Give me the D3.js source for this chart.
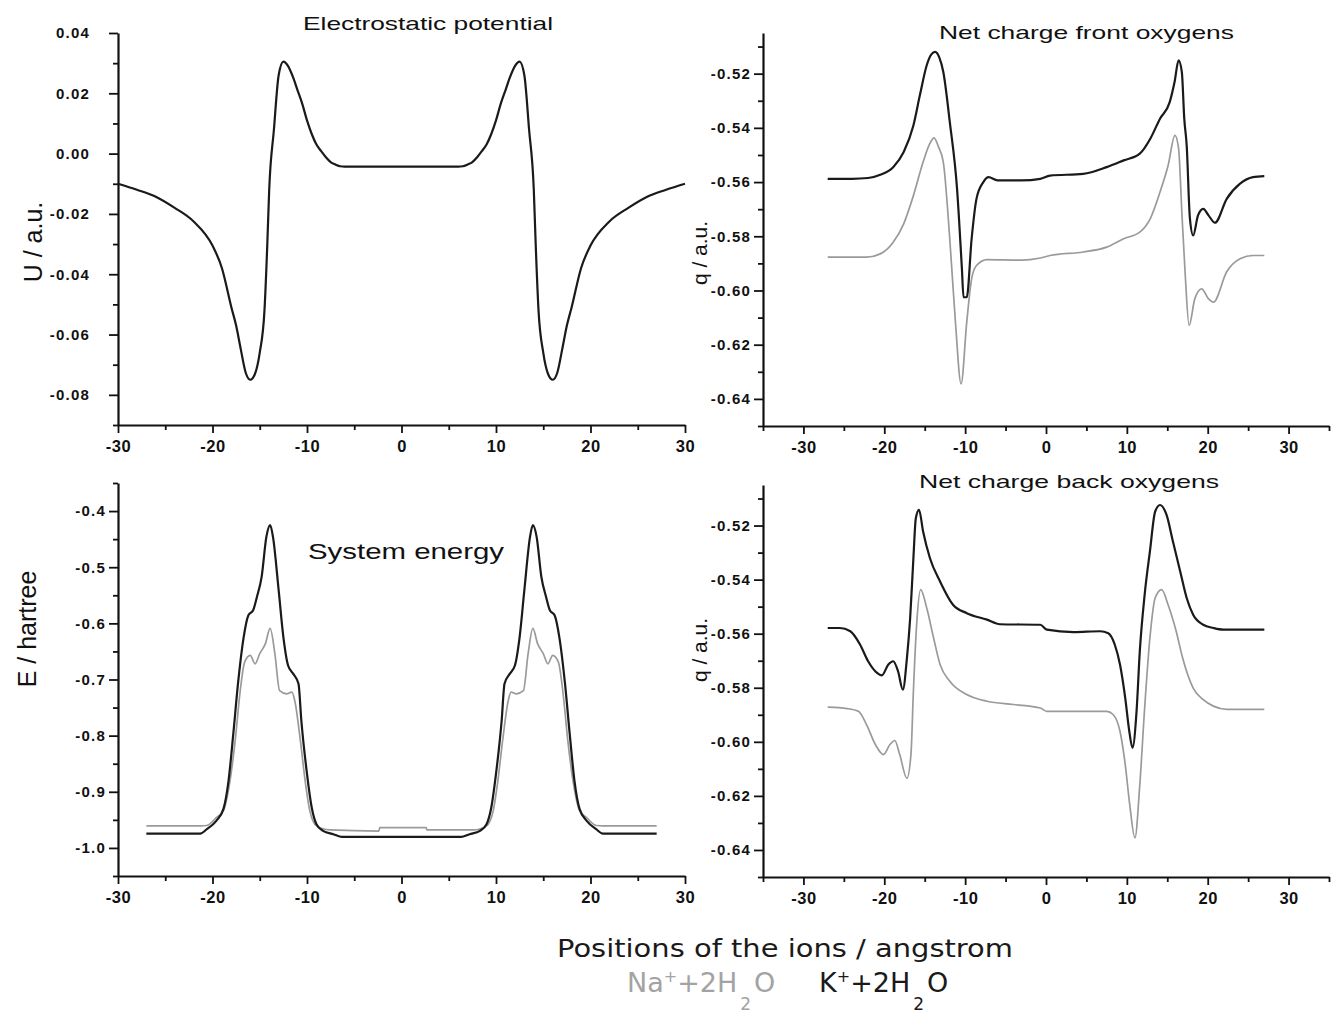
<!DOCTYPE html>
<html><head><meta charset="utf-8">
<script src="https://cdn.jsdelivr.net/npm/d3@7"></script>
<style>body{margin:0;background:#fff}svg{display:block;background:#fff}</style>
</head><body>
<svg id="c" width="1331" height="1013"></svg>
<script>
// ---------------- DATA ----------------
// Electrostatic potential (U / a.u.)
const potX = [-30,-28,-26,-24,-22,-20,-19,-18,-17.5,-17,-16.5,-16,-15.5,-15,-14.5,-14.2,-14,-13.5,-13,-12.5,-12,-11.5,-11,-10.5,-10,-9.5,-9,-8.5,-8,-7.5,-7,-6.5,-6,
              6,6.5,7,7.5,8,8.5,9,9.5,10,10.5,11,11.5,12,12.5,13,13.5,14,14.2,14.5,15,15.5,16,16.5,17,17.5,18,19,20,22,24,26,28,30];
const potU = [-0.0100,-0.0120,-0.0143,-0.0180,-0.0225,-0.0305,-0.0380,-0.0510,-0.0570,-0.0650,-0.0725,-0.0750,-0.0730,-0.0660,-0.0520,-0.0300,-0.0120,0.0080,0.0260,0.0305,0.0290,0.0255,0.0210,0.0165,0.0110,0.0065,0.0030,0.0008,-0.0012,-0.0028,-0.0036,-0.0042,-0.0043,
              -0.0043,-0.0042,-0.0036,-0.0028,-0.0012,0.0008,0.0030,0.0065,0.0110,0.0165,0.0210,0.0255,0.0290,0.0305,0.0260,0.0080,-0.0120,-0.0300,-0.0520,-0.0660,-0.0730,-0.0750,-0.0725,-0.0650,-0.0570,-0.0510,-0.0380,-0.0305,-0.0225,-0.0180,-0.0143,-0.0120,-0.0100];

// Net charge front oxygens (q / a.u.)
const frontXK = [-27,-24,-22,-20.5,-18.9,-17.6,-16.4,-15.6,-14.75,-14.2,-13.7,-13.2,-12.7,-11.9,-11.0,-10.4,-10.2,-9.8,-9.2,-8.6,-7.75,-7.1,-6,-3,-0.7,0.5,4.6,7.5,9.6,11.6,12.9,14.1,15.3,15.9,16.4,16.8,17.1,17.4,17.8,18.2,18.8,19.45,20.1,20.9,22.35,24.0,25.6,27];
const frontK  = [-0.5588,-0.5588,-0.5585,-0.5573,-0.5545,-0.5489,-0.5391,-0.5280,-0.5169,-0.5130,-0.5120,-0.5140,-0.5194,-0.5378,-0.5625,-0.5920,-0.6025,-0.6025,-0.5810,-0.5662,-0.5600,-0.5582,-0.5594,-0.5594,-0.5588,-0.5576,-0.5570,-0.5545,-0.5520,-0.5495,-0.5440,-0.5366,-0.5305,-0.5231,-0.5151,-0.5194,-0.5366,-0.5465,-0.5735,-0.5797,-0.5723,-0.5699,-0.5723,-0.5750,-0.5662,-0.5606,-0.5582,-0.5578];
const frontXNa = [-27,-22.2,-20.5,-18.9,-17.6,-16.4,-15.2,-14.4,-13.85,-13.3,-12.7,-11.9,-11.2,-10.5,-9.8,-9.2,-8.6,-7.3,-3,-0.7,0.5,4.6,7.5,9.6,11.6,12.9,14.1,15.1,15.95,16.4,16.8,17.2,17.7,18.4,19.25,20.1,20.7,22.35,24.0,25.6,27];
const frontNa  = [-0.5877,-0.5877,-0.5865,-0.5822,-0.5754,-0.5650,-0.5526,-0.5460,-0.5437,-0.5470,-0.5526,-0.5810,-0.6117,-0.6345,-0.6116,-0.5957,-0.5908,-0.5886,-0.5888,-0.5880,-0.5871,-0.5858,-0.5840,-0.5809,-0.5785,-0.5735,-0.5637,-0.5539,-0.5428,-0.5477,-0.5711,-0.5932,-0.6129,-0.6031,-0.5994,-0.6031,-0.6043,-0.5931,-0.5883,-0.5871,-0.5871];

// System energy (E / hartree)
const energyXK = [-27,-21.3,-20.6,-19.6,-18.85,-18.3,-17.8,-17.3,-16.7,-16.2,-15.7,-15.3,-14.8,-14.3,-13.9,-13.6,-13.0,-12.5,-12.0,-11.45,-10.9,-10.6,-10.0,-9.5,-9.0,-8.3,-7.2,-6.3,
                  6.3,7.2,8.3,9.0,9.5,10.0,10.6,10.9,11.45,12.0,12.5,13.0,13.6,13.9,14.3,14.8,15.3,15.7,16.2,16.7,17.3,17.8,18.3,18.85,19.6,20.6,21.3,27];
const energyK  = [-0.9744,-0.9744,-0.9667,-0.9518,-0.9310,-0.8800,-0.7970,-0.7070,-0.6244,-0.5857,-0.5768,-0.5530,-0.5173,-0.4460,-0.4250,-0.4460,-0.5410,-0.6244,-0.6750,-0.6900,-0.7077,-0.7730,-0.8680,-0.9280,-0.9577,-0.9696,-0.9756,-0.9804,
                  -0.9804,-0.9756,-0.9696,-0.9577,-0.9280,-0.8680,-0.7730,-0.7077,-0.6900,-0.6750,-0.6244,-0.5410,-0.4460,-0.4250,-0.4460,-0.5173,-0.5530,-0.5768,-0.5857,-0.6244,-0.7070,-0.7970,-0.8800,-0.9310,-0.9518,-0.9667,-0.9744,-0.9744];
const energyXNa = [-27,-21.3,-20.6,-19.6,-18.85,-18.2,-17.6,-17.1,-16.6,-16.0,-15.5,-15.0,-14.4,-13.9,-13.4,-12.9,-12.15,-11.6,-11.3,-10.7,-10.2,-9.7,-9.0,-7.6,-2.4,-2.3,2.6,2.7,
                   7.6,9.0,9.7,10.2,10.7,11.3,11.6,12.15,12.9,13.4,13.9,14.4,15.0,15.5,16.0,16.6,17.1,17.6,18.2,18.85,19.6,20.6,21.3,27];
const energyNa  = [-0.9607,-0.9607,-0.9600,-0.9460,-0.9340,-0.8860,-0.8090,-0.7250,-0.6690,-0.6570,-0.6720,-0.6540,-0.6360,-0.6090,-0.6540,-0.7200,-0.7256,-0.7226,-0.7375,-0.8090,-0.8800,-0.9340,-0.9607,-0.9680,-0.9700,-0.9637,-0.9637,-0.9680,
                   -0.9680,-0.9607,-0.9340,-0.8800,-0.8090,-0.7375,-0.7226,-0.7256,-0.7200,-0.6540,-0.6090,-0.6360,-0.6540,-0.6720,-0.6570,-0.6690,-0.7250,-0.8090,-0.8860,-0.9340,-0.9460,-0.9600,-0.9607,-0.9607];

// Net charge back oxygens (q / a.u.)
const backXK = [-27,-25.5,-24.2,-23.0,-22.0,-20.9,-20.3,-19.5,-18.9,-18.3,-17.7,-17.2,-16.8,-16.4,-16.1,-15.7,-15.2,-14.35,-13.1,-11.5,-9.8,-7.3,-5.7,-0.7,0.1,3.4,6.7,7.7,8.5,9.15,9.8,10.3,10.7,11.2,11.6,12.2,12.85,13.5,14.1,14.9,15.7,16.6,17.4,18.2,19.45,20.7,21.9,27];
const backK  = [-0.5579,-0.5579,-0.5591,-0.5640,-0.5702,-0.5745,-0.5754,-0.5714,-0.5702,-0.5739,-0.5807,-0.5690,-0.5542,-0.5321,-0.5173,-0.5142,-0.5222,-0.5321,-0.5407,-0.5493,-0.5524,-0.5548,-0.5565,-0.5567,-0.5585,-0.5594,-0.5591,-0.5598,-0.5640,-0.5714,-0.5838,-0.5961,-0.6022,-0.5887,-0.5665,-0.5456,-0.5296,-0.5148,-0.5124,-0.5160,-0.5259,-0.5370,-0.5468,-0.5530,-0.5567,-0.5579,-0.5585,-0.5585];
const backXNa = [-27,-24.6,-23.2,-22.2,-21.1,-20.1,-19.3,-18.7,-18.1,-17.2,-16.7,-16.4,-16.0,-15.5,-14.75,-13.9,-13.1,-11.9,-9.8,-7.3,-4.0,-0.7,0.1,7.5,8.3,9.15,9.8,10.35,11.0,11.6,12.2,12.85,13.5,14.3,15.1,16.1,16.9,18.2,19.45,20.7,22.35,27];
const backNa  = [-0.5872,-0.5877,-0.5887,-0.5936,-0.6010,-0.6047,-0.6010,-0.5995,-0.6046,-0.6135,-0.6046,-0.5813,-0.5567,-0.5437,-0.5505,-0.5616,-0.5714,-0.5776,-0.5825,-0.5850,-0.5862,-0.5875,-0.5887,-0.5887,-0.5899,-0.5961,-0.6084,-0.6231,-0.6355,-0.6159,-0.5875,-0.5616,-0.5468,-0.5437,-0.5493,-0.5591,-0.5690,-0.5801,-0.5844,-0.5868,-0.5880,-0.5880];

// Ticks
const xTicksLeft = [-30,-20,-10,0,10,20,30];
const xMinorLeft = [-25,-15,-5,5,15,25];
const xTicksRight = [-30,-20,-10,0,10,20,30];
const xMinorRight = [-35,-25,-15,-5,5,15,25,35];
const yTicksPot = [-0.08,-0.06,-0.04,-0.02,0.00,0.02,0.04];
const yMinorPot = [-0.09,-0.07,-0.05,-0.03,-0.01,0.01,0.03];
const yTicksQ = [-0.64,-0.62,-0.60,-0.58,-0.56,-0.54,-0.52];
const yMinorQ = [-0.65,-0.63,-0.61,-0.59,-0.57,-0.55,-0.53,-0.51];
const yTicksE = [-1.0,-0.9,-0.8,-0.7,-0.6,-0.5,-0.4];
const yMinorE = [-1.05,-0.95,-0.85,-0.75,-0.65,-0.55,-0.45,-0.35];

const titles = ["Electrostatic potential","Net charge front oxygens","System energy","Net charge back oxygens"];
const yLabels = ["U / a.u.","q / a.u.","E / hartree","q / a.u."];
const xLabel = "Positions of the ions / angstrom";
const legendNames = [["Na","+","+2H","2","O"],["K","+","+2H","2","O"]];

// ---------------- DRAW ----------------
const svg = d3.select("#c");
const BLACK = "#1a1a1a", GRAY = "#9a9a9a";
const FONT = "'Liberation Sans', Arial, sans-serif";

function panel(cfg) {
  const x = d3.scaleLinear().domain(cfg.xd).range(cfg.xr);
  const y = d3.scaleLinear().domain(cfg.yd).range(cfg.yr);
  const g = svg.append("g");

  // minor ticks
  g.append("g").attr("transform", `translate(0,${cfg.yr[0]})`)
    .call(d3.axisBottom(x).tickValues(cfg.xMinor).tickSize(5).tickFormat(""))
    .call(a => a.select(".domain").remove())
    .selectAll("line").attr("stroke", "#111").attr("stroke-width", 1.8);
  g.append("g").attr("transform", `translate(${cfg.xr[0]},0)`)
    .call(d3.axisLeft(y).tickValues(cfg.yMinor).tickSize(5).tickFormat(""))
    .call(a => a.select(".domain").remove())
    .selectAll("line").attr("stroke", "#111").attr("stroke-width", 1.8);

  // major x
  const xa = g.append("g").attr("transform", `translate(0,${cfg.yr[0]})`)
    .call(d3.axisBottom(x).tickValues(cfg.xTicks).tickSize(8).tickSizeOuter(0).tickPadding(cfg.xPad)
      .tickFormat(d => String(d)));
  xa.select(".domain").attr("stroke", "#111").attr("stroke-width", 2.2);
  xa.selectAll("line").attr("stroke", "#111").attr("stroke-width", 1.8);
  xa.selectAll("text").attr("font-family", FONT).attr("font-size", 16.5).attr("font-weight", "bold")
    .attr("fill", "#111").attr("letter-spacing", "0.5px");

  // major y
  const ya = g.append("g").attr("transform", `translate(${cfg.xr[0]},0)`)
    .call(d3.axisLeft(y).tickValues(cfg.yTicks).tickSize(9).tickSizeOuter(0).tickPadding(cfg.yPad)
      .tickFormat(d => d.toFixed(cfg.dec)));
  ya.select(".domain").attr("stroke", "#111").attr("stroke-width", 2.2);
  ya.selectAll("line").attr("stroke", "#111").attr("stroke-width", 1.8);
  ya.selectAll("text").attr("font-family", FONT).attr("font-size", 15).attr("font-weight", "bold")
    .attr("fill", "#111").attr("letter-spacing", "1.2px");

  // series
  cfg.series.forEach(s => {
    const line = d3.line().x((d, i) => x(s.x[i])).y(d => y(d)).curve(d3.curveMonotoneX);
    g.append("path").attr("d", line(s.y)).attr("fill", "none")
      .attr("stroke", s.color).attr("stroke-width", s.w).attr("stroke-linejoin", "round");
  });

  // title
  g.append("text").attr("x", cfg.title.x).attr("y", cfg.title.y)
    .attr("font-family", FONT).attr("font-size", cfg.title.fs).attr("fill", "#111")
    .attr("textLength", cfg.title.w).attr("lengthAdjust", "spacingAndGlyphs")
    .text(cfg.title.t);

  // y label
  g.append("text").attr("transform", `translate(${cfg.ylab.x},${cfg.ylab.y}) rotate(-90)`)
    .attr("text-anchor", "middle").attr("font-family", FONT).attr("font-size", cfg.ylab.fs)
    .attr("fill", "#111").text(cfg.ylab.t);
}

panel({
  xd: [-30, 30], xr: [118, 685], yd: [-0.09, 0.04], yr: [425, 33],
  xTicks: xTicksLeft, xMinor: xMinorLeft, yTicks: yTicksPot, yMinor: yMinorPot, dec: 2,
  xPad: 7, yPad: 19,
  series: [{x: potX, y: potU, color: BLACK, w: 2.2}],
  title: {t: titles[0], x: 303, y: 30, fs: 19, w: 250},
  ylab: {t: yLabels[0], x: 42, y: 242, fs: 25}
});
panel({
  xd: [-35, 35], xr: [763, 1329], yd: [-0.65, -0.505], yr: [426, 33],
  xTicks: xTicksRight, xMinor: xMinorRight, yTicks: yTicksQ, yMinor: yMinorQ, dec: 2,
  xPad: 7, yPad: 3,
  series: [{x: frontXNa, y: frontNa, color: GRAY, w: 1.7}, {x: frontXK, y: frontK, color: BLACK, w: 2.2}],
  title: {t: titles[1], x: 939, y: 39, fs: 19, w: 295},
  ylab: {t: yLabels[1], x: 707, y: 253, fs: 21}
});
panel({
  xd: [-30, 30], xr: [118, 685], yd: [-1.05, -0.35], yr: [876, 483],
  xTicks: xTicksLeft, xMinor: xMinorLeft, yTicks: yTicksE, yMinor: yMinorE, dec: 1,
  xPad: 7, yPad: 3,
  series: [{x: energyXNa, y: energyNa, color: GRAY, w: 1.7}, {x: energyXK, y: energyK, color: BLACK, w: 2.2}],
  title: {t: titles[2], x: 308, y: 559, fs: 22, w: 196},
  ylab: {t: yLabels[2], x: 36, y: 629, fs: 25}
});
panel({
  xd: [-35, 35], xr: [763, 1329], yd: [-0.65, -0.505], yr: [877, 485],
  xTicks: xTicksRight, xMinor: xMinorRight, yTicks: yTicksQ, yMinor: yMinorQ, dec: 2,
  xPad: 7, yPad: 3,
  series: [{x: backXNa, y: backNa, color: GRAY, w: 1.7}, {x: backXK, y: backK, color: BLACK, w: 2.2}],
  title: {t: titles[3], x: 919, y: 488, fs: 19, w: 300},
  ylab: {t: yLabels[3], x: 707, y: 650, fs: 21}
});

// x label
svg.append("text").attr("x", 557).attr("y", 957)
  .attr("font-family", "'DejaVu Sans', sans-serif").attr("font-size", 25).attr("fill", "#1a1a1a")
  .attr("textLength", 456).attr("lengthAdjust", "spacingAndGlyphs").text(xLabel);

// legend
function legendItem(parts, x0, color) {
  const t = svg.append("text").attr("x", x0).attr("y", 992)
    .attr("font-family", "'DejaVu Sans', sans-serif").attr("font-size", 27).attr("fill", color);
  t.append("tspan").text(parts[0]);
  t.append("tspan").attr("font-size", 16).attr("dy", -10).text(parts[1]);
  t.append("tspan").attr("dy", 10).text(parts[2]);
  t.append("tspan").attr("font-size", 17).attr("dy", 18).attr("dx", 3).text(parts[3]);
  t.append("tspan").attr("dy", -18).attr("dx", 3).text(parts[4]);
}
legendItem(legendNames[0], 627, "#a3a3a3");
legendItem(legendNames[1], 819, "#1a1a1a");
</script>
</body></html>
